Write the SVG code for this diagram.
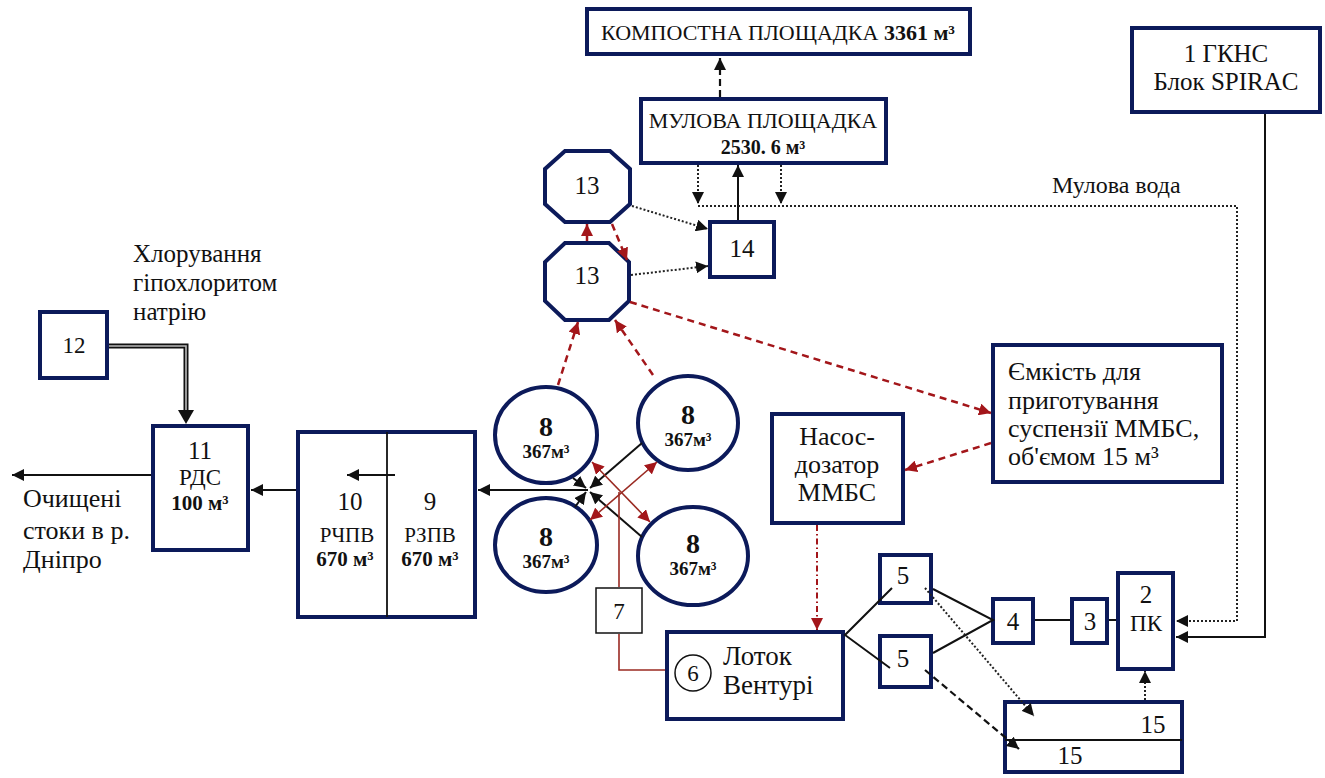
<svg xmlns="http://www.w3.org/2000/svg" width="1325" height="778" viewBox="0 0 1325 778">
<style>
.box{fill:#fff;stroke:#0c1a5a;stroke-width:4}
.thin{fill:#fff;stroke:#111;stroke-width:1.5}
.t{font-family:"Times New Roman","Liberation Serif",Tinos,Times,"DejaVu Serif","Noto Serif",serif;fill:#111}
.b{font-weight:bold}
.ln{fill:none;stroke:#111;stroke-width:2}
.dot{fill:none;stroke:#222;stroke-width:2;stroke-dasharray:2 2}
.dash{fill:none;stroke:#111;stroke-width:2.2;stroke-dasharray:7 4}
.rdash{fill:none;stroke:#a3161a;stroke-width:2.5;stroke-dasharray:7 5}
.rdd{fill:none;stroke:#a3161a;stroke-width:2;stroke-dasharray:6 3 1.5 3}
.rln{fill:none;stroke:#9a2a22;stroke-width:1.6}
</style>
<defs>
<marker id="ab" viewBox="0 0 10 10" refX="10" refY="5" markerWidth="12" markerHeight="12" markerUnits="userSpaceOnUse" orient="auto"><path d="M0,0 L10,5 L0,10 z" fill="#111"/></marker>
<marker id="ar" viewBox="0 0 10 10" refX="10" refY="5" markerWidth="12" markerHeight="12" markerUnits="userSpaceOnUse" orient="auto"><path d="M0,0 L10,5 L0,10 z" fill="#a3161a"/></marker>
<marker id="ars" viewBox="0 0 10 10" refX="0" refY="5" markerWidth="12" markerHeight="12" markerUnits="userSpaceOnUse" orient="auto"><path d="M10,0 L0,5 L10,10 z" fill="#a3161a"/></marker>
</defs>

<g id="n-kompost">
  <rect class="box" x="587" y="9" width="383" height="45"/>
  <text class="t" x="778" y="40" font-size="22" text-anchor="middle">КОМПОСТНА ПЛОЩАДКА   <tspan class="b">3361 м³</tspan></text>
</g>
<g id="n-mulova">
  <rect class="box" x="641" y="99" width="245" height="64"/>
  <text class="t" x="763" y="128" font-size="22" text-anchor="middle">МУЛОВА ПЛОЩАДКА</text>
  <text class="t b" x="763" y="154" font-size="20" text-anchor="middle">2530. 6 м³</text>
</g>
<g id="n1">
  <rect class="box" x="1132" y="28" width="188" height="84"/>
  <text class="t" x="1226" y="62" font-size="25" text-anchor="middle">1  ГКНС</text>
  <text class="t" x="1226" y="90" font-size="25" text-anchor="middle">Блок SPIRAC</text>
</g>
<text class="t" x="1052" y="193" font-size="24">Мулова вода</text>
<g id="n13a">
  <polygon class="box" points="565,151 610,151 630,169 630,204 610,222 565,222 545,204 545,169"/>
  <text class="t" x="587" y="194" font-size="25" text-anchor="middle">13</text>
</g>
<g id="n13b">
  <polygon class="box" points="565,243 609,243 629,262 629,301 609,320 565,320 545,301 545,262"/>
  <text class="t" x="587" y="284" font-size="25" text-anchor="middle">13</text>
</g>
<g id="n14">
  <rect class="box" x="710" y="222" width="64" height="55"/>
  <text class="t" x="742" y="257" font-size="25" text-anchor="middle">14</text>
</g>
<g id="n-chlor">
  <text class="t" x="133" y="262" font-size="25">Хлорування</text>
  <text class="t" x="133" y="291" font-size="25">гіпохлоритом</text>
  <text class="t" x="133" y="320" font-size="25">натрію</text>
</g>
<g id="n12">
  <rect class="box" x="40" y="312" width="67" height="66"/>
  <text class="t" x="74" y="353" font-size="23" text-anchor="middle">12</text>
</g>
<g id="n11">
  <rect class="box" x="153" y="426" width="95" height="124"/>
  <text class="t" x="200" y="459" font-size="25" text-anchor="middle">11</text>
  <text class="t" x="200" y="485" font-size="23" text-anchor="middle">РДС</text>
  <text class="t b" x="200" y="510" font-size="21" text-anchor="middle">100 м³</text>
</g>
<g id="n-out">
  <text class="t" x="23" y="507" font-size="26">Очищені</text>
  <text class="t" x="23" y="539" font-size="26">стоки в р.</text>
  <text class="t" x="23" y="568" font-size="26">Дніпро</text>
</g>
<g id="n9-10">
  <rect class="box" x="298" y="432" width="177" height="185"/>
  <line x1="387" y1="432" x2="387" y2="617" stroke="#111" stroke-width="1.8"/>
  <text class="t" x="350" y="510" font-size="25" text-anchor="middle">10</text>
  <text class="t" x="347" y="542" font-size="21" text-anchor="middle">РЧПВ</text>
  <text class="t b" x="345" y="566" font-size="21" text-anchor="middle">670 м³</text>
  <text class="t" x="430" y="510" font-size="25" text-anchor="middle">9</text>
  <text class="t" x="430" y="542" font-size="21" text-anchor="middle">РЗПВ</text>
  <text class="t b" x="430" y="566" font-size="21" text-anchor="middle">670 м³</text>
</g>
<g id="n8a">
  <ellipse class="box" cx="546" cy="435" rx="51" ry="48"/>
  <text class="t b" x="546" y="436" font-size="28" text-anchor="middle">8</text>
  <text class="t b" x="546" y="458" font-size="19" text-anchor="middle">367м³</text>
</g>
<g id="n8b">
  <ellipse class="box" cx="688" cy="423" rx="50" ry="47"/>
  <text class="t b" x="688" y="424" font-size="28" text-anchor="middle">8</text>
  <text class="t b" x="688" y="446" font-size="19" text-anchor="middle">367м³</text>
</g>
<g id="n8c">
  <ellipse class="box" cx="546" cy="545" rx="51" ry="47"/>
  <text class="t b" x="546" y="546" font-size="28" text-anchor="middle">8</text>
  <text class="t b" x="546" y="568" font-size="19" text-anchor="middle">367м³</text>
</g>
<g id="n8d">
  <ellipse class="box" cx="693" cy="556" rx="55" ry="49"/>
  <text class="t b" x="693" y="553" font-size="28" text-anchor="middle">8</text>
  <text class="t b" x="693" y="575" font-size="19" text-anchor="middle">367м³</text>
</g>
<g id="n-emk">
  <rect class="box" x="993" y="345" width="229" height="137"/>
  <text class="t" x="1008" y="380" font-size="26">Ємкість для</text>
  <text class="t" x="1008" y="409" font-size="26">приготування</text>
  <text class="t" x="1008" y="437" font-size="26">суспензії ММБС,</text>
  <text class="t" x="1008" y="465" font-size="26">об'ємом 15 м³</text>
</g>
<g id="n-nasos">
  <rect class="box" x="772" y="414" width="131" height="109"/>
  <text class="t" x="837" y="445" font-size="26" text-anchor="middle">Насос-</text>
  <text class="t" x="837" y="473" font-size="26" text-anchor="middle">дозатор</text>
  <text class="t" x="837" y="501" font-size="26" text-anchor="middle">ММБС</text>
</g>
<g id="n7">
  <rect class="thin" x="596" y="588" width="46" height="45"/>
  <text class="t" x="619" y="619" font-size="23" text-anchor="middle">7</text>
</g>
<g id="n6">
  <rect class="box" x="667" y="632" width="176" height="87"/>
  <circle cx="693" cy="673" r="18" fill="none" stroke="#111" stroke-width="1.5"/>
  <text class="t" x="693" y="681" font-size="23" text-anchor="middle">6</text>
  <text class="t" x="723" y="665" font-size="27">Лоток</text>
  <text class="t" x="723" y="694" font-size="27">Вентурі</text>
</g>
<g id="n5a">
  <rect class="box" x="880" y="555" width="51" height="48"/>
  <text class="t" x="903" y="584" font-size="25" text-anchor="middle">5</text>
</g>
<g id="n5b">
  <rect class="box" x="880" y="636" width="51" height="51"/>
  <text class="t" x="903" y="667" font-size="25" text-anchor="middle">5</text>
</g>
<g id="n4">
  <rect class="box" x="993" y="599" width="40" height="44"/>
  <text class="t" x="1013" y="630" font-size="25" text-anchor="middle">4</text>
</g>
<g id="n3">
  <rect class="box" x="1072" y="599" width="35" height="44"/>
  <text class="t" x="1090" y="630" font-size="25" text-anchor="middle">3</text>
</g>
<g id="n2">
  <rect class="box" x="1118" y="573" width="55" height="96"/>
  <text class="t" x="1146" y="603" font-size="25" text-anchor="middle">2</text>
  <text class="t" x="1146" y="631" font-size="23" text-anchor="middle">ПК</text>
</g>
<g id="n15">
  <rect class="box" x="1005" y="702" width="177" height="70"/>
  <line x1="1005" y1="740" x2="1182" y2="740" stroke="#111" stroke-width="1.8"/>
  <text class="t" x="1153" y="733" font-size="25" text-anchor="middle">15</text>
  <text class="t" x="1070" y="764" font-size="25" text-anchor="middle">15</text>
</g>

<g id="connectors">
  <path class="dash" d="M720,97 V58" marker-end="url(#ab)"/>
  <path class="ln" d="M738,220 V165" stroke-width="2.5" marker-end="url(#ab)"/>
  <path class="dot" d="M698,165 V204" marker-end="url(#ab)"/>
  <path class="dot" d="M781,165 V204" marker-end="url(#ab)"/>
  <path class="dot" d="M698,206 H1237 V621 H1176" marker-end="url(#ab)"/>
  <path class="ln" d="M1265,114 V637 H1176" marker-end="url(#ab)"/>
  <path class="dot" d="M632,206 L708,229" marker-end="url(#ab)"/>
  <path class="dot" d="M631,275 L708,266" marker-end="url(#ab)"/>
  <path class="rdash" d="M587,241 V224" marker-end="url(#ar)"/>
  <path class="rdash" d="M612,224 L627,260" marker-end="url(#ar)"/>
  <path class="rdash" d="M630,302 L991,413" marker-end="url(#ar)"/>
  <path class="rdash" d="M991,443 L905,470" marker-end="url(#ar)"/>
  <path class="rdash" d="M558,385 L578,322" marker-end="url(#ar)"/>
  <path class="rdash" d="M653,375 L615,320" marker-end="url(#ar)"/>
  <path class="rdd" d="M817,525 V630" marker-end="url(#ar)"/>
  <path d="M109,346 H186 V414" fill="none" stroke="#111" stroke-width="5"/>
  <path d="M109,346 H186 V414" fill="none" stroke="#bbb" stroke-width="1.6"/>
  <path d="M178,410 L194,410 L186,424 z" fill="#111"/>
  <path class="ln" d="M151,475 H12" marker-end="url(#ab)"/>
  <path class="ln" d="M296,490 H251" marker-end="url(#ab)"/>
  <path class="ln" d="M395,475 H347" marker-end="url(#ab)"/>
  <path class="ln" d="M588,490 H478" marker-end="url(#ab)"/>
  <path class="ln" d="M573,478 L586,488" marker-end="url(#ab)"/>
  <path class="ln" d="M642,443 L590,488" marker-end="url(#ab)"/>
  <path class="ln" d="M575,507 L586,492" marker-end="url(#ab)"/>
  <path class="ln" d="M642,537 L590,492" marker-end="url(#ab)"/>
  <path class="rln" d="M592,462 L650,522" marker-start="url(#ars)" marker-end="url(#ar)"/>
  <path class="rln" d="M657,462 L590,520" marker-start="url(#ars)" marker-end="url(#ar)"/>
  <path class="rln" d="M619,492 V587"/>
  <path class="rln" d="M619,634 V670 H665"/>
  <path class="ln" d="M892,588 L845,635 L890,668"/>
  <path class="ln" d="M933,589 L993,620 L933,653"/>
  <path class="ln" d="M1035,620 H1070"/>
  <path class="ln" d="M1109,620 H1116"/>
  <path class="dot" d="M925,588 L1034,716" marker-end="url(#ab)"/>
  <path class="dash" d="M925,670 L1019,749" marker-end="url(#ab)"/>
  <path class="dot" d="M1145,700 V671" marker-end="url(#ab)"/>
</g>
</svg>
